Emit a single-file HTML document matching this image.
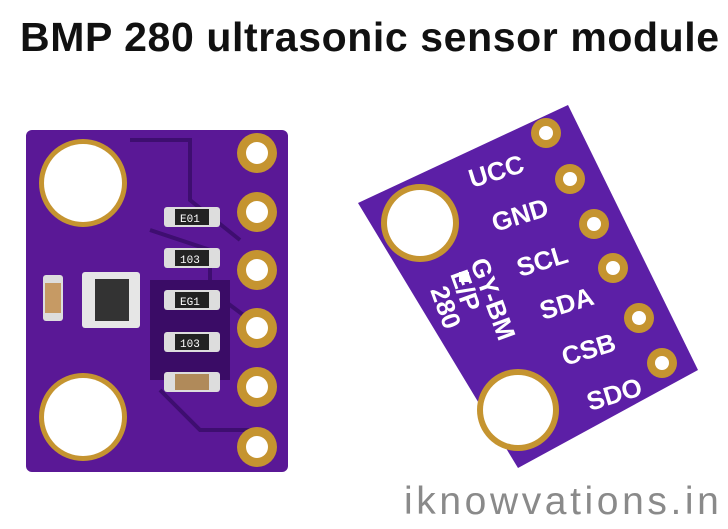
<!DOCTYPE html>
<html><head><meta charset="utf-8"><style>
body{margin:0;width:728px;height:529px;background:#fff;overflow:hidden;position:relative;font-family:"Liberation Sans",sans-serif}
.t{position:absolute;left:20px;top:14px;font-size:41px;font-weight:bold;color:#111;white-space:nowrap;letter-spacing:0.6px}
.w{position:absolute;left:404px;top:480px;font-size:39px;color:#8a8a8a;letter-spacing:3.6px;white-space:nowrap}
</style></head><body>
<div class="t">BMP 280 ultrasonic sensor module</div>
<svg width="728" height="529" style="position:absolute;left:0;top:0">
<rect x="26" y="130" width="262" height="342" rx="6" fill="#5a1896"/>
<path d="M130 140 H190 V200 L240 240 M150 230 L210 250 V290 L250 320 M160 390 L200 430 H250" stroke="#3e0e70" stroke-width="4" fill="none"/>
<rect x="150" y="280" width="80" height="100" fill="#3a0c66"/>
<circle cx="83" cy="183" r="44" fill="#c59430"/><circle cx="83" cy="183" r="39" fill="#fff"/>
<circle cx="83" cy="417" r="44" fill="#c59430"/><circle cx="83" cy="417" r="39" fill="#fff"/>
<g fill="#c59430">
<circle cx="257" cy="153" r="20"/><circle cx="257" cy="212" r="20"/><circle cx="257" cy="270" r="20"/><circle cx="257" cy="328" r="20"/><circle cx="257" cy="387" r="20"/><circle cx="257" cy="447" r="20"/></g>
<g fill="#fff">
<circle cx="257" cy="153" r="11"/><circle cx="257" cy="212" r="11"/><circle cx="257" cy="270" r="11"/><circle cx="257" cy="328" r="11"/><circle cx="257" cy="387" r="11"/><circle cx="257" cy="447" r="11"/></g>
<g fill="#ddd"><rect x="164" y="207" width="56" height="20" rx="3"/><rect x="164" y="248" width="56" height="20" rx="3"/><rect x="164" y="290" width="56" height="20" rx="3"/><rect x="164" y="332" width="56" height="20" rx="3"/><rect x="164" y="372" width="56" height="20" rx="3"/></g>
<g fill="#222"><rect x="175" y="209" width="34" height="16"/><rect x="175" y="250" width="34" height="16"/><rect x="175" y="292" width="34" height="16"/><rect x="175" y="334" width="34" height="16"/></g>
<rect x="175" y="374" width="34" height="16" fill="#b08a5a"/>
<g fill="#fff" font-size="11" font-family="Liberation Mono"><text x="180" y="222">E01</text><text x="180" y="263">103</text><text x="180" y="305">EG1</text><text x="180" y="347">103</text></g>
<rect x="82" y="272" width="58" height="56" rx="3" fill="#e6e6e6"/><rect x="95" y="279" width="34" height="42" fill="#333"/>
<rect x="43" y="275" width="20" height="46" rx="3" fill="#ddd"/><rect x="45" y="283" width="16" height="30" fill="#c69a64"/>
<polygon points="358,203 568,105 698,370 518,468" fill="#5c1fa6"/>
<circle cx="420" cy="223" r="39" fill="#c59430"/><circle cx="420" cy="223" r="33" fill="#fff"/>
<circle cx="518" cy="410" r="41" fill="#c59430"/><circle cx="518" cy="410" r="35" fill="#fff"/>
<g fill="#c59430">
<circle cx="546" cy="133" r="15"/><circle cx="570" cy="179" r="15"/><circle cx="594" cy="224" r="15"/><circle cx="613" cy="268" r="15"/><circle cx="639" cy="318" r="15"/><circle cx="662" cy="363" r="15"/></g>
<g fill="#fff">
<circle cx="546" cy="133" r="7"/><circle cx="570" cy="179" r="7"/><circle cx="594" cy="224" r="7"/><circle cx="613" cy="268" r="7"/><circle cx="639" cy="318" r="7"/><circle cx="662" cy="363" r="7"/></g>
<g fill="#fff" font-size="26" font-weight="bold">
<text x="472" y="188" transform="rotate(-17 472 188)">UCC</text>
<text x="495" y="232" transform="rotate(-17 495 232)">GND</text>
<text x="520" y="277" transform="rotate(-17 520 277)">SCL</text>
<text x="543" y="320" transform="rotate(-17 543 320)">SDA</text>
<text x="565" y="366" transform="rotate(-17 565 366)">CSB</text>
<text x="590" y="411" transform="rotate(-17 590 411)">SDO</text>
<text x="470" y="262" transform="rotate(70 470 262)">GY-BM</text>
<text x="450" y="274" transform="rotate(70 450 274)">E/P</text>
<text x="430" y="290" transform="rotate(70 430 290)">280</text>
</g>
<rect x="459" y="272" width="10" height="10" fill="#fff"/>
</svg>
<div class="w">iknowvations.in</div>
</body></html>
